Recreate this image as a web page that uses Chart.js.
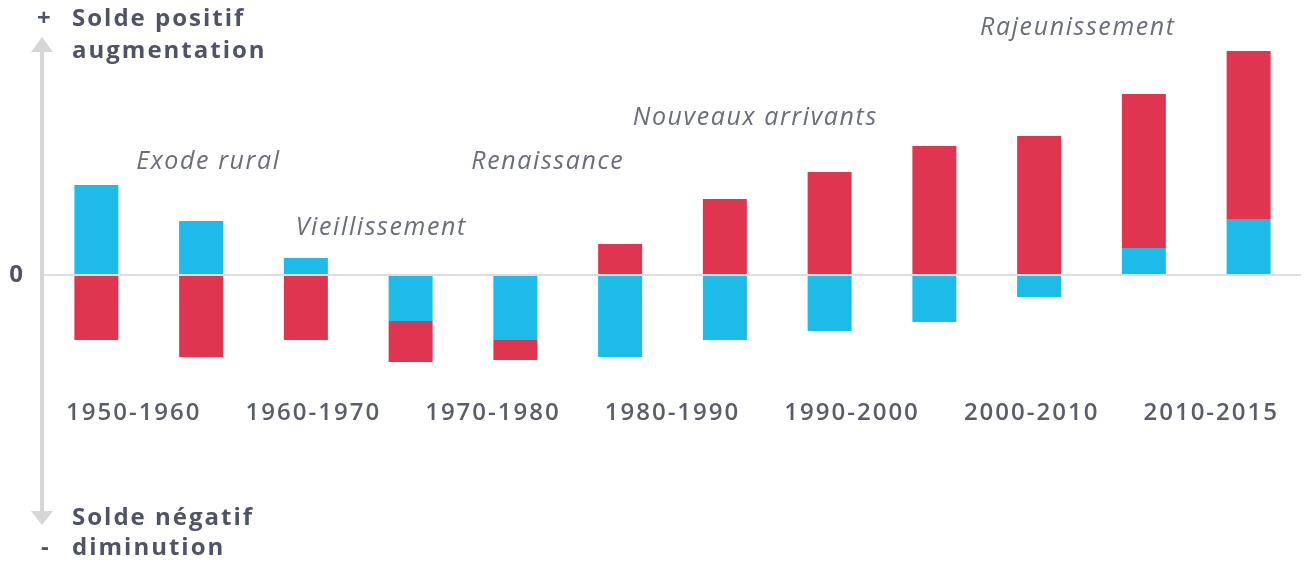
<!DOCTYPE html>
<html><head><meta charset="utf-8">
<script src="https://cdn.jsdelivr.net/npm/chart.js@4"></script>
<style>html,body{margin:0;padding:0;background:#fff;}#wrap{width:1309px;height:572px;}</style>
</head><body><div id="wrap"><canvas id="c" width="1309" height="572"></canvas></div>
<script>
// ---- data ----
const bars = ['b1','b2','b3','b4','b5','b6','b7','b8','b9','b10','b11','b12'];
const blueValues = [90, 54, 17, -46, -65, -82, -65, -56, -47, -22, 27, 56];
const redValues  = [-65, -82, -65, -41, -20, 31, 76, 103, 129, 139, 154, 168];
const periods = ['1950-1960','1960-1970','1970-1980','1980-1990','1990-2000','2000-2010','2010-2015'];
const annotationTexts = ['Exode rural','Vieillissement','Renaissance','Nouveaux arrivants','Rajeunissement'];
const annotationAt = [[1.07,113],[2.72,47],[4.31,113],[6.29,157],[9.37,247]];
const yMin = -250, yMax = 238, periodRowAt = -116;

const BLUE = '#1cbbe8', RED = '#e03551', DARK = '#4f5365', GREY = '#d6d6d6';

const overlay = {
  id: 'overlay',
  beforeDraw(chart) {
    chart.ctx.letterSpacing = '2px';
  },
  afterDraw(chart) {
    const {ctx, chartArea, scales} = chart;
    const x0 = chartArea.left - 2;
    ctx.save();
    // arrow shaft
    ctx.strokeStyle = GREY; ctx.fillStyle = GREY; ctx.lineWidth = 4;
    ctx.beginPath(); ctx.moveTo(x0, chartArea.top + 10); ctx.lineTo(x0, chartArea.bottom - 10); ctx.stroke();
    // heads
    ctx.beginPath(); ctx.moveTo(x0, chartArea.top); ctx.lineTo(x0 - 11, chartArea.top + 15); ctx.lineTo(x0 + 11, chartArea.top + 15); ctx.closePath(); ctx.fill();
    ctx.beginPath(); ctx.moveTo(x0, chartArea.bottom); ctx.lineTo(x0 - 11, chartArea.bottom - 14); ctx.lineTo(x0 + 11, chartArea.bottom - 14); ctx.closePath(); ctx.fill();
    // headers
    ctx.fillStyle = DARK; ctx.textBaseline = 'middle'; ctx.textAlign = 'left';
    ctx.font = '700 24px "Open Sans"';
    ctx.letterSpacing = '2px';
    ctx.fillText('+', 37, 19);
    ctx.fillText('Solde positif', 72, 19);
    ctx.fillText('augmentation', 72, 51);
    ctx.fillText('Solde négatif', 72, 518);
    ctx.fillText('-', 41, 548);
    ctx.fillText('diminution', 72, 548);
    ctx.textAlign = 'center';
    ctx.letterSpacing = '0px';
    ctx.fillText('0', 16, scales.y.getPixelForValue(0));
    // annotations
    ctx.font = 'italic 400 25px "Open Sans"';
    ctx.fillStyle = '#6a6e7a';
    ctx.letterSpacing = '1.6px';
    annotationTexts.forEach((t, i) => {
      const [xi, yv] = annotationAt[i];
      ctx.fillText(t, scales.x.getPixelForValue(xi), scales.y.getPixelForValue(yv));
    });
    ctx.restore();
  }
};

new Chart(document.getElementById('c'), {
  type: 'bar',
  data: {
    labels: bars,
    datasets: [
      {data: blueValues, backgroundColor: BLUE, barPercentage: 0.42, categoryPercentage: 1, stack: 's'},
      {data: redValues, backgroundColor: RED, barPercentage: 0.42, categoryPercentage: 1, stack: 's'}
    ]
  },
  options: {
    responsive: false, animation: false,
    layout: {padding: {left: 44, right: 8, top: 37, bottom: 47}},
    plugins: {legend: {display: false}, tooltip: {enabled: false}},
    scales: {
      x: {stacked: true, display: false},
      periods: {
        type: 'category', labels: periods, axis: 'x', offset: true,
        position: {y: periodRowAt},
        grid: {display: false}, border: {display: false},
        ticks: {color: '#5a5e6b', font: {family: 'Open Sans', size: 24, weight: '600'}, padding: 0, autoSkip: false, maxRotation: 0}
      },
      y: {
        stacked: true, min: yMin, max: yMax,
        ticks: {display: false},
        border: {display: false},
        grid: {z: 1, drawTicks: false, lineWidth: 2, color: (c) => c.tick && c.tick.value === 0 ? '#dddddd' : 'transparent'}
      }
    }
  },
  plugins: [overlay]
});
</script></body></html>
